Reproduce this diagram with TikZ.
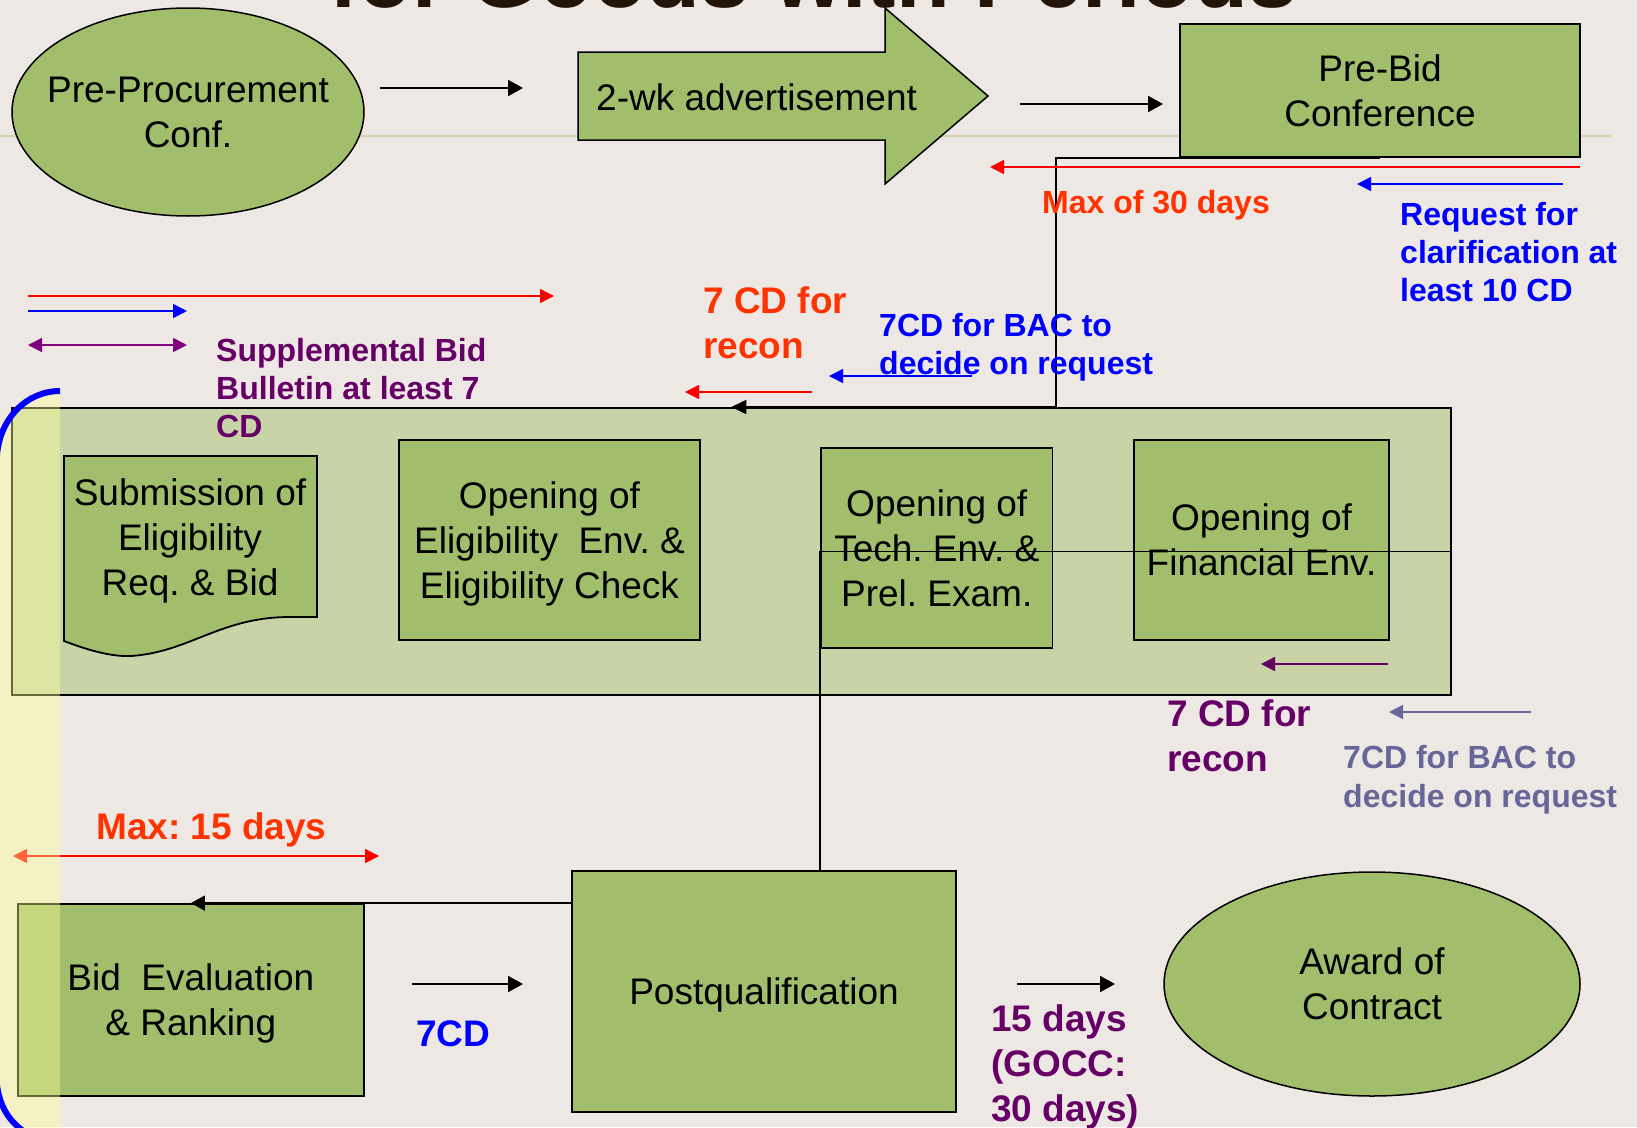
\documentclass[tikz,border=0pt]{standalone}
\usepackage{fontspec}
\setmainfont{Liberation Sans}
\frenchspacing
\usetikzlibrary{arrows.meta,shapes.geometric}
\definecolor{slidebg}{HTML}{EDE8E3}
\definecolor{boxgreen}{HTML}{A1BE6C}
\definecolor{stagegreen}{HTML}{C8D3A8}
\definecolor{ruletan}{HTML}{D9D1AE}
\definecolor{titlebrown}{HTML}{231408}
\definecolor{daysorange}{HTML}{FF3300}
\definecolor{cdpurple}{HTML}{660066}
\definecolor{arrowpurple}{HTML}{800080}
\definecolor{bacslate}{HTML}{666699}
\definecolor{stripyellow}{HTML}{FFFF99}
\tikzset{
  procbox/.style={draw=black,line width=1.8pt,fill=boxgreen,inner sep=0pt,align=center,font=\fontsize{37}{45}\selectfont},
  procoval/.style={procbox,ellipse,line width=1.5pt},
  proctext/.style={inner sep=0pt,align=center,font=\fontsize{37}{45}\selectfont},
  daytag/.style={anchor=north west,inner sep=0pt,align=left,font=\bfseries\fontsize{32}{38}\selectfont},
  bigtag/.style={daytag,font=\bfseries\fontsize{37}{45}\selectfont},
  flowarrow/.style={line width=2pt,-{Triangle[length=15pt,width=16pt]}},
  gapline/.style={line width=1.6pt,-{Triangle[length=14pt,width=14pt]}},
  bothgap/.style={line width=1.6pt,{Triangle[length=14pt,width=14pt]}-{Triangle[length=14pt,width=14pt]}},
  linkline/.style={line width=1.5pt,draw=black}
}

\begin{document}
\begin{tikzpicture}[x=1pt,y=-1pt]
  \useasboundingbox (0,0) rectangle (1637,1127);
  \fill[slidebg] (0,0) rectangle (1637,1127);
  \node[anchor=base west,inner sep=0pt,text=titlebrown,font=\bfseries\fontsize{88}{100}\selectfont] (title) at (329,8) {for Goods with Periods};
  \draw[ruletan,line width=1.5pt] (0,136) -- (1611,136);
  % top row
  \node[procoval,minimum width=352pt,minimum height=208pt] (preproc) at (188,112) {};
  \node[proctext] (preproc-txt) at (preproc.center) {Pre-Procurement\\Conf.};
  \draw[fill=boxgreen,line width=1.5pt] (578,52) -- (885,52) -- (885,8) -- (988,96) -- (885,184) -- (885,140) -- (578,140) -- cycle;
  \node[anchor=base west,inner sep=0pt,font=\fontsize{37}{45}\selectfont] (advert) at (596,110) {2-wk advertisement};
  \node[procbox,minimum width=400pt,minimum height=133pt] (prebid) at (1380,90.5) {Pre-Bid\\Conference};
  % opening stage
  \node[draw=black,line width=2pt,fill=stagegreen,minimum width=1439.5pt,minimum height=287pt,inner sep=0pt] (stage) at (731.25,551.5) {};
  \draw[fill=boxgreen,line width=1.8pt] (64,456) -- (317,456) -- (317,617) -- (290,617)
    .. controls (220,617) and (190,652) .. (131,656) .. controls (110,657) and (85,649) .. (64,641) -- cycle;
  \node[proctext] (subm) at (190,541) {Submission of\\Eligibility\\Req. \& Bid};
  \node[procbox,text depth=0pt,minimum width=301pt,minimum height=200pt] (eligbox) at (549.5,540) {Opening of\\Eligibility\ \ Env. \&\\Eligibility Check};
  \node[procbox,minimum width=231.5pt,minimum height=200pt] (techbox) at (936.75,548) {Opening of\\Tech. Env. \&\\Prel. Exam.};
  \node[procbox,minimum width=255pt,minimum height=200pt] (finbox) at (1261.5,540) {Opening of\\Financial Env.};
  % bottom row
  \node[procbox,text depth=0pt,minimum width=346.3pt,minimum height=192pt] (evalbox) at (190.85,1000) {Bid\ \ Evaluation\\\& Ranking};
  \node[procbox,text depth=0pt,minimum width=384pt,minimum height=241pt] (postqual) at (764,991.5) {Postqualification};
  \node[procoval,minimum width=416pt,minimum height=224pt] (award) at (1372,984) {};
  \node[proctext] (award-txt) at (award.center) {Award of\\Contract};
  % connectors
  \coordinate (drop) at (1056,157);
  \draw[linkline,-{Triangle[length=15pt,width=14pt]}] (prebid.south) -| (drop |- stage.north) -- (stage.north);
  \draw[linkline] (stage.east) -- (stage.east -| techbox.west) -- (techbox.west |- postqual.north);
  \draw[linkline,-{Triangle[length=14pt,width=15pt]}] (postqual.west |- evalbox.north) -- (evalbox.north);
  % time spans
  \coordinate (pp-out) at (380,88);    \coordinate (ad-in) at (523,88);
  \coordinate (ad-out) at (1020,104);  \coordinate (pb-in) at (1163,104);
  \coordinate (r30a) at (1580,167);    \coordinate (r30b) at (990,167);
  \coordinate (rq10a) at (1563,184);   \coordinate (rq10b) at (1357,184);
  \coordinate (lred-a) at (28,296);    \coordinate (lred-b) at (554,296);
  \coordinate (lblue-a) at (28,311);   \coordinate (lblue-b) at (187,311);
  \coordinate (lpur-a) at (28,345);    \coordinate (lpur-b) at (187,345);
  \coordinate (rc1a) at (812,392);     \coordinate (rc1b) at (685,392);
  \coordinate (bac1a) at (972,376);    \coordinate (bac1b) at (829,376);
  \coordinate (rc2a) at (1388,664);    \coordinate (rc2b) at (1261,664);
  \coordinate (bac2a) at (1531,712);   \coordinate (bac2b) at (1389,712);
  \coordinate (m15a) at (13,856);      \coordinate (m15b) at (379,856);
  \coordinate (ev-out) at (412,984);   \coordinate (pq-in) at (523,984);
  \coordinate (pq-out) at (1017,984);  \coordinate (aw-in) at (1115,984);
  \draw[flowarrow] (pp-out) -- (ad-in);
  \draw[flowarrow] (ad-out) -- (pb-in);
  \draw[gapline,red] (r30a) -- (r30b);
  \draw[gapline,blue] (rq10a) -- (rq10b);
  \draw[gapline,red] (lred-a) -- (lred-b);
  \draw[gapline,blue] (lblue-a) -- (lblue-b);
  \draw[bothgap,arrowpurple] (lpur-a) -- (lpur-b);
  \draw[gapline,red] (rc1a) -- (rc1b);
  \draw[gapline,blue] (bac1a) -- (bac1b);
  \draw[gapline,cdpurple] (rc2a) -- (rc2b);
  \draw[gapline,bacslate] (bac2a) -- (bac2b);
  \draw[bothgap,red] (m15a) -- (m15b);
  \draw[flowarrow] (ev-out) -- (pq-in);
  \draw[flowarrow] (pq-out) -- (aw-in);
  % labels
  \node[daytag,text=daysorange,anchor=base west] (max30) at (1042,213) {Max of 30 days};
  \node[daytag,text=blue] (clarify) at (1400,202.6) {Request for\\clarification at\\least 10 CD};
  \node[daytag,text=cdpurple] (suppl) at (216,338.6) {Supplemental Bid\\Bulletin at least 7\\CD};
  \node[bigtag,text=daysorange] (recon1) at (703,286) {7 CD for\\recon};
  \node[daytag,text=blue] (bac1) at (879,313.6) {7CD for BAC to\\decide on request};
  \node[bigtag,text=cdpurple] (recon2) at (1167,699) {7 CD for\\recon};
  \node[daytag,text=bacslate] (bac2) at (1343,745.6) {7CD for BAC to\\decide on request};
  \node[bigtag,text=daysorange,anchor=base west] (max15) at (96,839) {Max: 15 days};
  \node[bigtag,text=blue,anchor=base west] (cd7) at (416,1046) {7CD};
  \node[bigtag,text=cdpurple] (award15) at (991,1004) {15 days\\(GOCC:\\30 days)};
  % left strip
  \fill[stripyellow,fill opacity=0.4] (60,391) .. controls (27,391) and (0,418) .. (-3,455) -- (-3,1085)
    .. controls (0,1108) and (10,1122) .. (26,1133) -- (60,1133) -- cycle;
  \draw[blue,line width=6pt] (60,391) .. controls (27,391) and (0,418) .. (-3,455);
  \draw[blue,line width=6pt] (-3,1085) .. controls (0,1108) and (10,1122) .. (26,1133);
\end{tikzpicture}
\end{document}
